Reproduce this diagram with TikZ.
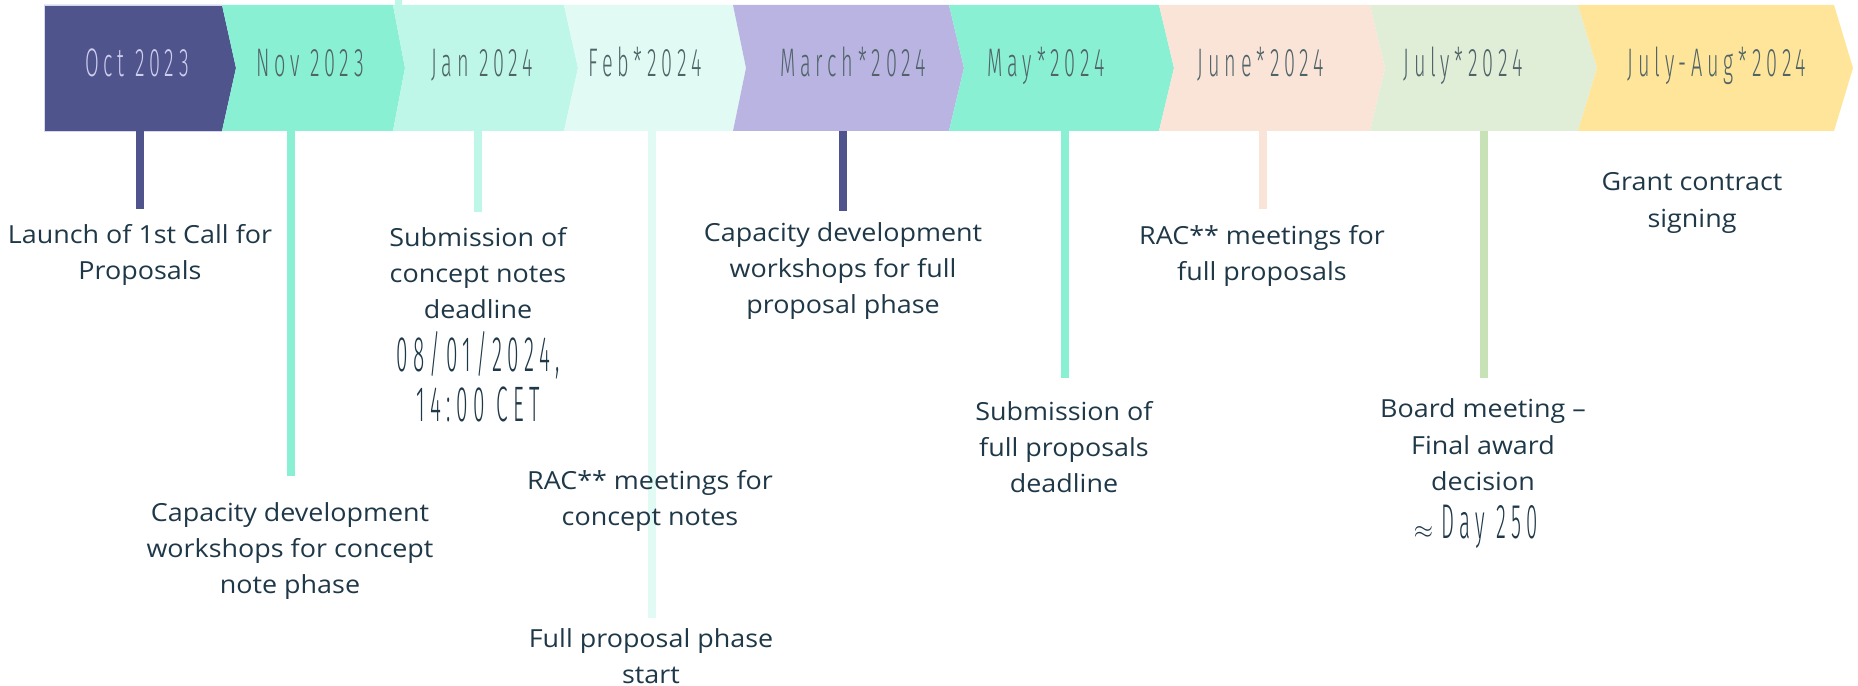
\documentclass[tikz,border=0pt]{standalone}
\usepackage{fontspec}
\setmainfont{Open Sans}[FakeStretch=1.08]
\newcommand\setthin[1]{%
  \newfontfamily\headfont{#1}[FakeStretch=0.5,LetterSpace=12]%
  \newfontfamily\datefont{#1}[FakeStretch=0.42,LetterSpace=11]}
\IfFontExistsTF{Fira Sans Light}{\setthin{Fira Sans Light}}
  {\IfFontExistsTF{Noto Sans Light}{\setthin{Noto Sans Light}}{\setthin{Liberation Sans}}}
\usetikzlibrary{positioning}
\definecolor{ink}{RGB}{31,56,72}
\definecolor{headink}{RGB}{80,100,104}
\definecolor{octink}{RGB}{205,205,238}
\definecolor{octedge}{RGB}{214,214,240}
\definecolor{octc}{RGB}{79,84,140}
\definecolor{novc}{RGB}{137,240,212}
\definecolor{janc}{RGB}{190,247,232}
\definecolor{febc}{RGB}{225,250,243}
\definecolor{marc}{RGB}{186,180,227}
\definecolor{junc}{RGB}{250,228,216}
\definecolor{julc}{RGB}{224,238,216}
\definecolor{julline}{RGB}{198,226,182}
\definecolor{augc}{RGB}{255,229,153}
\begin{document}
\begin{tikzpicture}[x=1bp,y=-1bp,
  month/.style={anchor=base,inner sep=0pt,font=\headfont\fontsize{40}{40}\selectfont},
  event/.style={align=center,inner sep=0pt,text=ink,font=\fontsize{25}{36.5}\selectfont},
  when/.style={align=center,inner sep=0pt,text=ink,font=\datefont\fontsize{50}{50}\selectfont},
  stem/.style={line width=8bp}]
\useasboundingbox (0,0) rectangle (1858,686);
\fill[janc] (395,0) rectangle (402,5);
\foreach \n/\a/\pa/\b/\pb/\c/\t/\lx/\m in {
    oct/44/44/222/236/octc/octink/137/{Oct 2023},
    nov/222/236/393/405/novc/headink/310/{Nov 2023},
    jan/393/405/564/578/janc/headink/482/{Jan 2024},
    feb/564/578/733/746/febc/headink/645/{Feb*2024},
    mar/733/746/949/964/marc/headink/853/{March*2024},
    may/949/964/1159/1174/novc/headink/1046/{May*2024},
    jun/1159/1174/1370/1385/junc/headink/1261/{June*2024},
    jul/1370/1385/1578/1597/julc/headink/1463/{July*2024},
    aug/1578/1597/1834/1853/augc/headink/1717/{July-Aug*2024}}
  {
    \fill[\c] (\a,5) -- (\b,5) -- (\pb,68) -- (\b,131) -- (\a,131) -- (\pa,68) -- cycle;
    \node[month,text=\t] (\n) at (\lx,77) {\m};
  }
\draw[octedge] (222,5) -| (44,131) -- (222,131);
\foreach \n/\x/\y/\c in {oct/140/209/octc, nov/291/476/novc, jan/478/212/janc,
    feb/652/618/febc, mar/843/211/octc, may/1065/378/novc,
    jun/1263/209/junc, jul/1484/378/julline}
  {
    \coordinate (\n-top) at (\x,131);
    \coordinate (\n-end) at (\x,\y);
    \draw[stem,\c] (\n-top) -- (\n-end);
  }
\node[event] (launch) at (140,255) {Launch of 1st Call for\\Proposals};
\node[event] (cdnote) at (290,551) {Capacity development\\workshops for concept\\note phase};
\node[event] (subnote) at (478,273) {Submission of\\concept notes\\deadline};
\node[when] (subdate) at (478,377) {08/01/2024,\\14:00 CET};
\node[event] (racnote) at (650,501) {RAC** meetings for\\concept notes};
\node[event] (fullstart) at (651,656) {Full proposal phase\\start};
\node[event] (cdfull) at (843,271) {Capacity development\\workshops for full\\proposal phase};
\node[event] (subfull) at (1064,447) {Submission of\\full proposals\\deadline};
\node[event] (racfull) at (1262,256) {RAC** meetings for\\full proposals};
\node[event] (board) at (1483,445) {Board meeting –\\Final award\\decision};
\node[when,font=\datefont\fontsize{49}{49}\selectfont] (day) at (1476,527) {{\fontsize{40}{40}\selectfont$\approx$}\,Day 250};
\node[event] (grant) at (1692,203) {Grant contract\\signing};
\end{tikzpicture}
\end{document}
